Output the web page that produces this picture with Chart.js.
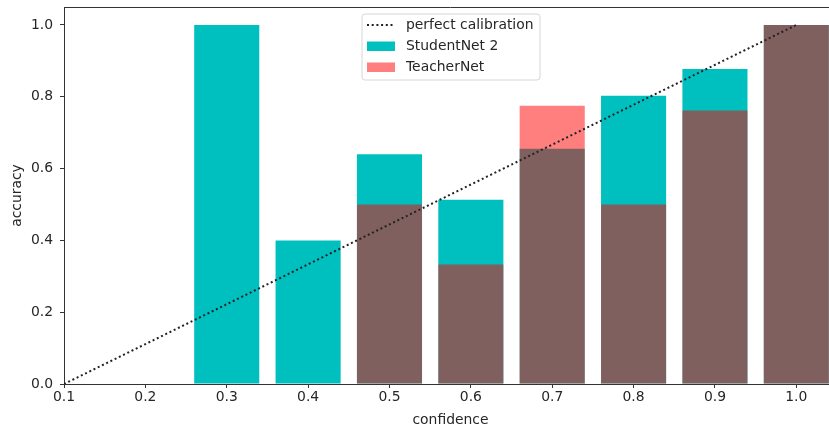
<!DOCTYPE html>
<html>
<head>
<meta charset="utf-8">
<script src="https://cdn.jsdelivr.net/npm/chart.js@4.4.1/dist/chart.umd.min.js"></script>
<style>
  html, body { margin: 0; padding: 0; background: #fff; overflow: hidden; }
  #wrap { width: 829px; height: 432px; overflow: hidden; }
</style>
</head>
<body>
<div id="wrap"><canvas id="canvasPanel" width="850" height="432"></canvas></div>
<script>
// bin centres (confidence) and accuracy per bin
var binCenters = [0.3, 0.4, 0.5, 0.6, 0.7, 0.8, 0.9, 1.0];
var studentAcc = [1.0, 0.4, 0.64, 0.513, 0.655, 0.803, 0.877, 1.0];
var teacherAcc = [null, null, 0.5, 0.333, 0.775, 0.5, 0.762, 1.0];
var diagX = [0.1, 1.0];
var diagY = [0.0, 1.0];

var xTicks = [0.1, 0.2, 0.3, 0.4, 0.5, 0.6, 0.7, 0.8, 0.9, 1.0];
var xTickLabels = ['0.1', '0.2', '0.3', '0.4', '0.5', '0.6', '0.7', '0.8', '0.9', '1.0'];
var yTicks = [0.0, 0.2, 0.4, 0.6, 0.8, 1.0];
var yTickLabels = ['0.0', '0.2', '0.4', '0.6', '0.8', '1.0'];

var FONT = 'DejaVu Sans';
var FS = 13.9;
var TXT = '#262626';
var AX = '#333';

function pts(xs, ys) {
  return xs.map(function(x, i) { return {x: x, y: ys[i]}; });
}

// matplotlib-like legend box inside the axes + top spine
var mplDecor = {
  id: 'mplDecor',
  afterDraw: function(chart) {
    var ctx = chart.ctx, ca = chart.chartArea;
    ctx.save();
    ctx.strokeStyle = AX;
    ctx.lineWidth = 1;
    ctx.beginPath();
    ctx.moveTo(ca.left, ca.top + 0.5);
    ctx.lineTo(ca.right, ca.top + 0.5);
    ctx.stroke();

    var bx = 362, by = 14, bw = 178, bh = 66, r = 3;
    ctx.beginPath();
    ctx.moveTo(bx + r, by);
    ctx.arcTo(bx + bw, by, bx + bw, by + bh, r);
    ctx.arcTo(bx + bw, by + bh, bx, by + bh, r);
    ctx.arcTo(bx, by + bh, bx, by, r);
    ctx.arcTo(bx, by, bx + bw, by, r);
    ctx.closePath();
    ctx.fillStyle = 'rgba(255,255,255,0.8)';
    ctx.fill();
    ctx.strokeStyle = '#d6d6d6';
    ctx.stroke();

    ctx.font = FS + 'px "' + FONT + '"';
    ctx.textBaseline = 'middle';
    ctx.fillStyle = TXT;
    chart.data.datasets.forEach(function(ds, i) {
      var cy = 25 + i * 21;
      if (ds.type === 'line') {
        ctx.save();
        ctx.strokeStyle = ds.borderColor;
        ctx.lineWidth = ds.borderWidth;
        ctx.setLineDash(ds.borderDash);
        ctx.beginPath();
        ctx.moveTo(367, cy);
        ctx.lineTo(395, cy);
        ctx.stroke();
        ctx.restore();
      } else {
        ctx.fillStyle = '#fff';
        ctx.fillRect(367, cy - 4.5, 28, 9.5);
        ctx.fillStyle = ds.backgroundColor;
        ctx.fillRect(367, cy - 4.5, 28, 9.5);
      }
      ctx.fillStyle = TXT;
      ctx.fillText(ds.label, 406, cy + 0.5);
    });
    ctx.restore();
  }
};

var config = {
  type: 'bar',
  data: {
    datasets: [{
      type: 'line',
      label: 'perfect calibration',
      data: pts(diagX, diagY),
      borderColor: '#222',
      borderWidth: 2,
      borderDash: [2, 2.7],
      borderCapStyle: 'butt',
      pointRadius: 0,
      fill: false,
      order: 0
    },
    {
      label: 'StudentNet 2',
      data: pts(binCenters, studentAcc),
      backgroundColor: '#00bfbf',
      borderWidth: 0,
      grouped: false,
      categoryPercentage: 1.0,
      barPercentage: 0.8,
      order: 2
    },
    {
      label: 'TeacherNet',
      data: pts(binCenters, teacherAcc),
      backgroundColor: 'rgba(255,0,0,0.5)',
      borderWidth: 0,
      grouped: false,
      categoryPercentage: 1.0,
      barPercentage: 0.8,
      order: 1
    }]
  },
  options: {
    responsive: false,
    animation: false,
    devicePixelRatio: 1,
    layout: { padding: { left: 0, top: 7, right: 13, bottom: 0 } },
    plugins: { legend: { display: false }, tooltip: { enabled: false } },
    scales: {
      x: {
        type: 'linear',
        offset: false,
        min: 0.1,
        max: 1.05,
        afterBuildTicks: function(s) { s.ticks = xTicks.map(function(v) { return {value: v}; }); },
        afterFit: function(s) { s.height = 48; s.paddingLeft = 0; s.paddingRight = 0; },
        grid: { display: true, offset: false, drawOnChartArea: false, drawTicks: true, tickLength: 4, color: AX },
        border: { display: true, color: AX, width: 1 },
        ticks: {
          autoSkip: false, maxRotation: 0, padding: 1, color: TXT,
          font: { family: FONT, size: FS },
          callback: function(v, i) { return xTickLabels[i]; }
        },
        title: { display: true, text: 'confidence', color: TXT, font: { family: FONT, size: FS }, padding: { top: 0, bottom: 3 } }
      },
      y: {
        min: 0,
        max: 1.05,
        afterBuildTicks: function(s) { s.ticks = yTicks.map(function(v) { return {value: v}; }); },
        afterFit: function(s) { s.width = 64; s.paddingTop = 0; s.paddingBottom = 0; },
        grid: { display: true, drawOnChartArea: false, drawTicks: true, tickLength: 4, color: AX },
        border: { display: true, color: AX, width: 1 },
        ticks: {
          autoSkip: false, padding: 7, color: TXT,
          font: { family: FONT, size: FS },
          callback: function(v, i) { return yTickLabels[i]; }
        },
        title: { display: true, text: 'accuracy', color: TXT, font: { family: FONT, size: FS }, padding: { top: 9, bottom: 0 } }
      }
    }
  },
  plugins: [mplDecor]
};

window.onload = function() {
  var ctx = document.getElementById('canvasPanel').getContext('2d');
  window.myChart = new Chart(ctx, config);
};
</script>
</body>
</html>
